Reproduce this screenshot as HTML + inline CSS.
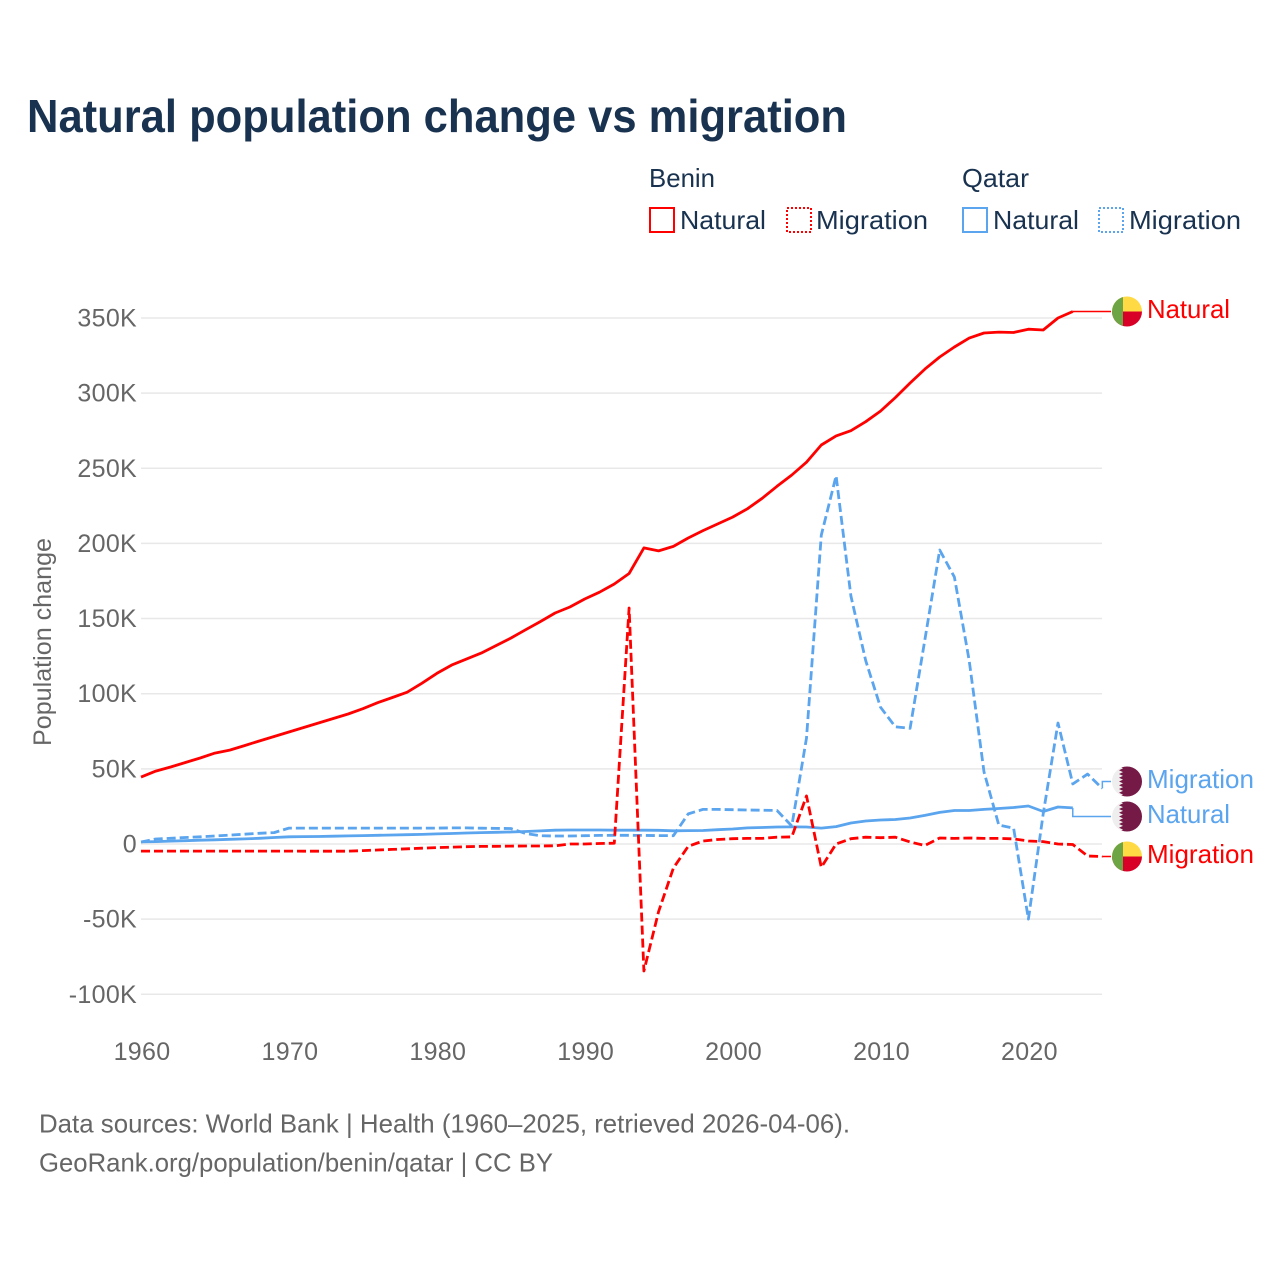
<!DOCTYPE html>
<html lang="en">
<head>
<meta charset="utf-8">
<title>Natural population change vs migration</title>
<style>
html,body{margin:0;padding:0;background:#fff;width:1280px;height:1280px;overflow:hidden}
svg{display:block;font-family:"Liberation Sans",sans-serif}
</style>
</head>
<body>
<svg id="chart" xmlns="http://www.w3.org/2000/svg" width="1280" height="1280" viewBox="0 0 1280 1280">
  <rect width="1280" height="1280" fill="#fff"/>
  <text x="27" y="132" font-size="46" font-weight="bold" fill="#18324f" textLength="820" lengthAdjust="spacingAndGlyphs">Natural population change vs migration</text>

  <g font-size="26" fill="#18324f">
    <text x="649" y="187" textLength="66" lengthAdjust="spacingAndGlyphs">Benin</text>
    <text x="962" y="187" textLength="67" lengthAdjust="spacingAndGlyphs">Qatar</text>
    <rect x="650" y="208" width="24" height="24" fill="none" stroke="#ff0000" stroke-width="2"/>
    <text x="680" y="229" textLength="86" lengthAdjust="spacingAndGlyphs">Natural</text>
    <rect x="787" y="208" width="24" height="24" fill="none" stroke="#ff0000" stroke-width="2" stroke-dasharray="2 2"/>
    <text x="816" y="229" textLength="112" lengthAdjust="spacingAndGlyphs">Migration</text>
    <rect x="963" y="208" width="24" height="24" fill="none" stroke="#5ba4ee" stroke-width="2"/>
    <text x="993" y="229" textLength="86" lengthAdjust="spacingAndGlyphs">Natural</text>
    <rect x="1099" y="208" width="24" height="24" fill="none" stroke="#5ba4ee" stroke-width="2" stroke-dasharray="2 2"/>
    <text x="1129" y="229" textLength="112" lengthAdjust="spacingAndGlyphs">Migration</text>
  </g>

  <text transform="translate(51 642) rotate(-90)" text-anchor="middle" font-size="25" fill="#666" textLength="208" lengthAdjust="spacingAndGlyphs">Population change</text>

  <g id="grid"></g>
  <g id="yticks"></g>
  <g id="xticks"></g>
  <g id="series"></g>
  <g id="labels"></g>

  <text x="39" y="1132.5" font-size="26" fill="#666" textLength="811" lengthAdjust="spacingAndGlyphs">Data sources: World Bank | Health (1960–2025, retrieved 2026-04-06).</text>
  <text x="39" y="1171.5" font-size="26" fill="#666" textLength="514" lengthAdjust="spacingAndGlyphs">GeoRank.org/population/benin/qatar | CC BY</text>
</svg>

<script>
const startYear = 1960;
const yTickValues = [350, 300, 250, 200, 150, 100, 50, 0, -50, -100];
const xTickYears = [1960, 1970, 1980, 1990, 2000, 2010, 2020];

const beninNatural = [44.5,48.5,51.2,54.2,57.2,60.5,62.5,65.5,68.5,71.5,
  74.5,77.5,80.5,83.5,86.5,90,94,97.5,101,107,
  113.5,119,123,127,132,137,142.5,148,153.7,157.7,
  163,167.5,173,180,197,195,198,203.6,208.5,213,
  217.5,223,230,238,245.5,254,265.5,271.5,275,281,
  288,297,306.7,316,324,330.7,336.6,340,340.6,340.3,
  342.5,342,350,354.3];

const beninMigration = [-4.7,-4.7,-4.7,-4.7,-4.7,-4.7,-4.7,-4.7,-4.7,-4.7,
  -4.7,-4.8,-4.8,-4.8,-4.8,-4.4,-4,-3.6,-3.2,-2.8,
  -2.4,-2.1,-1.8,-1.6,-1.5,-1.4,-1.3,-1.3,-1.2,0,
  0,0.3,0.5,157,-84.5,-45,-16,-1.5,2,3,
  3.5,3.7,3.7,4.5,4.7,32,-15.5,0,3.5,4.5,
  4.2,4.5,1.3,-1,4,3.7,4,3.7,3.7,3.4,
  2,1.6,0,-0.3,-8,-8.3];

const qatarNatural = [1.4,1.6,1.9,2.2,2.5,2.8,3.1,3.4,3.8,4.3,
  4.8,4.9,5,5.2,5.4,5.6,5.8,6,6.2,6.4,
  6.7,7,7.3,7.6,7.8,8,8.3,8.7,9.2,9.3,
  9.3,9.3,9.2,9.2,9.2,9.1,8.8,8.9,9,9.5,
  10,10.7,11,11.3,11.4,11.3,10.6,11.6,14,15.3,
  16,16.3,17.3,19,21,22.3,22.3,23,23.6,24.3,
  25.3,21.6,24.6,24];

const qatarMigration = [1.3,3.3,3.8,4.3,4.8,5.3,5.9,6.5,7.1,7.6,
  10.6,10.6,10.6,10.6,10.6,10.6,10.6,10.6,10.6,10.6,
  10.6,10.7,10.7,10.5,10.4,10.3,7,5.5,5.3,5.3,
  5.5,5.7,5.8,5.8,5.7,5.6,5.5,20,23,23,
  22.8,22.6,22.5,22.3,12,70.5,205.5,245,165,122,
  91,78,77,136,195.6,177.6,122,48,12.6,10.6,
  -50,20,80.5,40,46.5,37];

const SVG_NS = 'http://www.w3.org/2000/svg';
const xScale = year => 141 + (year - 1960) * 14.79;
const yScale = k => 844 - k * 1.503;
const plotRight = 1102;
const leaderEnd = 1111;

function make(tag, parent, attrs) {
  const el = document.createElementNS(SVG_NS, tag);
  for (const key in attrs) el.setAttribute(key, attrs[key]);
  parent.appendChild(el);
  return el;
}

const gridGroup = document.getElementById('grid');
const yTickGroup = document.getElementById('yticks');
yTickValues.forEach(v => {
  const gl = make('line', gridGroup, {x1: 141, x2: plotRight, y1: yScale(v), y2: yScale(v), stroke: '#e8e8e8', 'stroke-width': 1.5});
  
  
  const t = make('text', yTickGroup, {x: 137, y: yScale(v) + 8.5, 'text-anchor': 'end', 'font-size': 25, fill: '#666', 'letter-spacing': 0.3});
  
  
  t.textContent = v === 0 ? '0' : v + 'K';
});

const xTickGroup = document.getElementById('xticks');
xTickYears.forEach(yr => {
  const t = make('text', xTickGroup, {x: xScale(yr) + 1, y: 1060, 'text-anchor': 'middle', 'font-size': 25, fill: '#666', 'letter-spacing': 0.3});
  
  
  t.textContent = yr;
});

let flagCount = 0;
function drawFlag(parent, kind, cy) {
  const cx = 1127, r = 15;
  flagCount += 1;
  const id = 'flag-clip-' + flagCount;
  const defs = make('defs', parent, {});
  const cp = make('clipPath', defs, {id: id});
  make('circle', cp, {cx: cx, cy: cy, r: r});
  const g = make('g', parent, {'clip-path': 'url(#' + id + ')'});
  
  
  if (kind === 'benin') {
    make('rect', g, {x: cx - r, y: cy - r, width: 2 * r, height: r, fill: '#ffda44'});
    make('rect', g, {x: cx - r, y: cy, width: 2 * r, height: r, fill: '#d80027'});
    make('rect', g, {x: cx - r, y: cy - r, width: 11, height: 2 * r, fill: '#6da544'});
  } else {
    make('rect', g, {x: cx - r, y: cy - r, width: 2 * r, height: 2 * r, fill: '#eeeeee'});
    let pts = [[cx + r, cy - r], [cx - 8, cy - r]];
    const teeth = 8, h = 2 * r / teeth;
    for (let i = 0; i < teeth; i++) {
      pts.push([cx - 4, cy - r + h * i + h / 2]);
      pts.push([cx - 8, cy - r + h * (i + 1)]);
    }
    pts.push([cx + r, cy + r]);
    make('polygon', g, {points: pts.map(p => p.join(',')).join(' '), fill: '#751a46'});
  }
}

const seriesGroup = document.getElementById('series');
const labelGroup = document.getElementById('labels');
function drawSeries(name, values, color, dashed, offset, kind, labelText) {
  const pts = values.map((v, i) => xScale(startYear + i).toFixed(1) + ',' + yScale(v).toFixed(1));
  const lastX = xScale(startYear + values.length - 1);
  const lastY = yScale(values[values.length - 1]);
  const labelY = Math.round(lastY + offset) + 0.5;
  const leader = make('polyline', seriesGroup, {points: lastX + ',' + lastY + ' ' + lastX + ',' + labelY + ' ' + leaderEnd + ',' + labelY, fill: 'none', stroke: color, 'stroke-width': 1.5});
  
  
  const line = make('polyline', seriesGroup, {points: pts.join(' '), fill: 'none', stroke: color, 'stroke-width': 2.8, 'stroke-linejoin': 'round'});
  if (dashed) line.setAttribute('stroke-dasharray', '9 4');
  
  
  drawFlag(labelGroup, kind, labelY);
  const t = make('text', labelGroup, {x: 1147, y: labelY + 6.5, 'font-size': 26, fill: color, textLength: labelText === 'Natural' ? 83 : 107, lengthAdjust: 'spacingAndGlyphs'});
  
  
  t.textContent = labelText;
}

drawSeries('qatar-natural', qatarNatural, '#5ba4ee', false, 8, 'qatar', 'Natural');
drawSeries('qatar-migration', qatarMigration, '#5ba4ee', true, -7, 'qatar', 'Migration');
drawSeries('benin-migration', beninMigration, '#ff0000', true, 0, 'benin', 'Migration');
drawSeries('benin-natural', beninNatural, '#ff0000', false, 0, 'benin', 'Natural');
</script>
</body>
</html>
